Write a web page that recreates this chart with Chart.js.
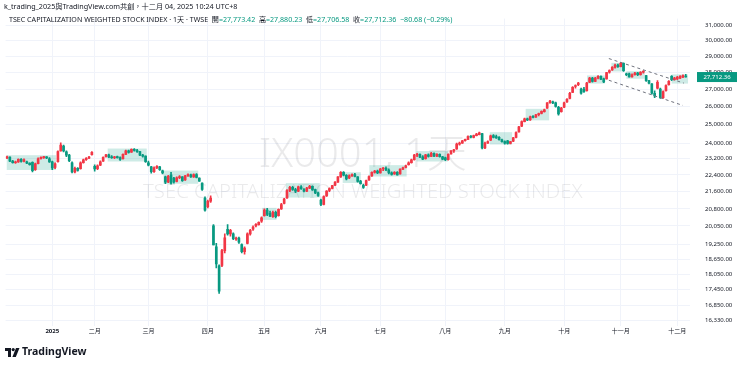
<!DOCTYPE html>
<html>
<head>
<meta charset="utf-8">
<title>TSEC Weighted Index - 1D</title>
<script src="https://cdn.jsdelivr.net/npm/chart.js@4.4.1/dist/chart.umd.min.js"></script>
<style>
    html, body { margin: 0; padding: 0; background: #ffffff; }
    #wrap { width: 740px; height: 367px; position: relative; }
</style>
</head>
<body>
<div id="wrap"><canvas id="chart" width="740" height="367"></canvas></div>
<script>
// Trading days shown on the chart (Dec 10 2024 -> Dec 4 2025)
const dates = [
    '2024-12-10','2024-12-11','2024-12-12','2024-12-13','2024-12-16','2024-12-17','2024-12-18','2024-12-19','2024-12-20',
    '2024-12-23','2024-12-24','2024-12-25','2024-12-26','2024-12-27','2024-12-30','2024-12-31',
    '2025-01-02','2025-01-03','2025-01-06','2025-01-07','2025-01-08','2025-01-09','2025-01-10','2025-01-13','2025-01-14',
    '2025-01-15','2025-01-16','2025-01-17','2025-01-20','2025-01-21','2025-01-22',
    '2025-02-03','2025-02-04','2025-02-05','2025-02-06','2025-02-07','2025-02-10','2025-02-11','2025-02-12','2025-02-13',
    '2025-02-14','2025-02-17','2025-02-18','2025-02-19','2025-02-20','2025-02-21','2025-02-24','2025-02-25','2025-02-26','2025-02-27',
    '2025-03-03','2025-03-04','2025-03-05','2025-03-06','2025-03-07','2025-03-10','2025-03-11','2025-03-12','2025-03-13',
    '2025-03-14','2025-03-17','2025-03-18','2025-03-19','2025-03-20','2025-03-21','2025-03-24','2025-03-25','2025-03-26',
    '2025-03-27','2025-03-28','2025-03-31',
    '2025-04-01','2025-04-02','2025-04-07','2025-04-08','2025-04-09','2025-04-10','2025-04-11','2025-04-14','2025-04-15',
    '2025-04-16','2025-04-17','2025-04-18','2025-04-21','2025-04-22','2025-04-23','2025-04-24','2025-04-25','2025-04-28',
    '2025-04-29','2025-04-30',
    '2025-05-02','2025-05-05','2025-05-06','2025-05-07','2025-05-08','2025-05-09','2025-05-12','2025-05-13','2025-05-14',
    '2025-05-15','2025-05-16','2025-05-19','2025-05-20','2025-05-21','2025-05-22','2025-05-23','2025-05-26','2025-05-27',
    '2025-05-28','2025-05-29',
    '2025-06-02','2025-06-03','2025-06-04','2025-06-05','2025-06-06','2025-06-09','2025-06-10','2025-06-11','2025-06-12',
    '2025-06-13','2025-06-16','2025-06-17','2025-06-18','2025-06-19','2025-06-20','2025-06-23','2025-06-24','2025-06-25',
    '2025-06-26','2025-06-27','2025-06-30',
    '2025-07-01','2025-07-02','2025-07-03','2025-07-04','2025-07-07','2025-07-08','2025-07-09','2025-07-10','2025-07-11',
    '2025-07-14','2025-07-15','2025-07-16','2025-07-17','2025-07-18','2025-07-21','2025-07-22','2025-07-23','2025-07-24',
    '2025-07-25','2025-07-28','2025-07-29','2025-07-30','2025-07-31',
    '2025-08-01','2025-08-04','2025-08-05','2025-08-06','2025-08-07','2025-08-08','2025-08-11','2025-08-12','2025-08-13',
    '2025-08-14','2025-08-15','2025-08-18','2025-08-19','2025-08-20','2025-08-21','2025-08-22','2025-08-25','2025-08-26',
    '2025-08-27','2025-08-28','2025-08-29',
    '2025-09-01','2025-09-02','2025-09-03','2025-09-04','2025-09-05','2025-09-08','2025-09-09','2025-09-10','2025-09-11',
    '2025-09-12','2025-09-15','2025-09-16','2025-09-17','2025-09-18','2025-09-19','2025-09-22','2025-09-23','2025-09-24',
    '2025-09-25','2025-09-26','2025-09-30',
    '2025-10-01','2025-10-02','2025-10-03','2025-10-07','2025-10-08','2025-10-09','2025-10-13','2025-10-14','2025-10-15',
    '2025-10-16','2025-10-17','2025-10-20','2025-10-21','2025-10-22','2025-10-23','2025-10-27','2025-10-28','2025-10-29',
    '2025-10-30','2025-10-31',
    '2025-11-03','2025-11-04','2025-11-05','2025-11-06','2025-11-07','2025-11-10','2025-11-11','2025-11-12','2025-11-13',
    '2025-11-14','2025-11-17','2025-11-18','2025-11-19','2025-11-20','2025-11-21','2025-11-24','2025-11-25','2025-11-26',
    '2025-11-27','2025-11-28',
    '2025-12-01','2025-12-02','2025-12-03','2025-12-04'
];

// OHLC, one value per trading day
const openP = [
    23240,23280,23080,23000,23040,23170,23060,23050,22980,23020,22650,22950,23200,23260,23290,23200,
    23050,22760,23050,23600,23850,23550,23380,23000,22550,22720,22700,23000,23150,23230,23400,
    22820,22700,22880,23080,23300,23400,23300,23250,23290,23260,23200,23420,23600,23540,23680,23620,23560,23380,23330,
    23000,22800,22560,22750,22800,22600,22300,22060,22400,22240,22080,22260,22300,22150,22350,22400,22300,22420,22250,22000,21300,
    20900,21150,20050,19150,18380,18400,19000,19900,19700,19700,19480,19520,19250,18950,19300,19700,19900,20050,20100,20250,
    20500,20750,20600,20450,20650,20500,20800,21050,21300,21650,21800,21700,21620,21820,21700,21620,21760,21850,21700,21540,
    21200,21000,21400,21650,21750,21900,22050,22300,22520,22380,22250,22350,22420,22300,22100,21900,21900,22150,22350,22520,22580,
    22500,22700,22720,22640,22500,22450,22530,22450,22680,22760,22900,23000,23150,23380,23420,23300,23200,23400,23320,23480,23330,23420,23300,
    23250,23150,23450,23600,23700,23950,24000,24130,24200,24350,24300,24400,24450,24500,23750,24000,24150,24400,24350,24300,24180,
    24080,24120,23980,24100,24300,24600,24900,25150,25300,25250,25420,25400,25530,25600,25700,25900,26200,26250,26200,25950,25700,
    25950,26250,26450,26800,27150,27250,27000,27000,26900,27400,27650,27450,27650,27750,27600,27600,28000,28150,28300,28450,
    28350,28550,27900,27900,27720,27850,27950,27850,28000,27800,27500,27300,26750,27050,27000,26500,26900,27250,27750,27550,
    27600,27650,27700,27773.42
];
const highP = [
    23340,23300,23120,23080,23200,23210,23200,23080,23000,23050,22980,23250,23300,23320,23310,23260,
    23080,23000,23600,24020,23900,23600,23420,23050,22780,22760,23050,23180,23260,23320,23560,
    22900,22900,23100,23300,23420,23440,23360,23320,23340,23300,23450,23640,23640,23700,23720,23680,23580,23420,23350,
    23080,22820,22800,22860,22820,22640,22340,22380,22520,22280,22300,22360,22320,22380,22450,22440,22450,22460,22260,22020,21350,
    21200,21400,20100,19300,18420,19050,19700,20100,19900,19750,19560,19560,19280,19150,19750,19900,20050,20150,20220,20450,
    20800,20830,20700,20700,20700,20800,21050,21280,21700,21850,21850,21750,21860,21880,21740,21800,21900,21870,21720,21580,
    21250,21400,21650,21780,21900,22080,22320,22560,22560,22420,22400,22450,22480,22320,22140,21950,22150,22350,22550,22620,22640,
    22720,22760,22800,22700,22550,22560,22560,22700,22780,22880,23050,23180,23420,23480,23450,23360,23420,23450,23520,23500,23460,23450,23320,
    23280,23450,23620,23680,24000,24050,24150,24220,24380,24400,24420,24520,24580,24520,24050,24120,24420,24450,24420,24350,24220,
    24120,24150,24100,24300,24600,24900,25200,25350,25350,25450,25480,25560,25620,25750,25850,26220,26350,26300,26250,26000,25950,
    26250,26450,26800,27150,27250,27400,27050,27100,27400,27700,27700,27700,27800,27780,27650,28000,28150,28350,28500,28500,
    28620,28580,27950,27950,27900,28000,28000,28050,28100,27820,27520,27320,26900,27500,27050,26900,27250,27500,27800,27700,
    27750,27800,27850,27880.23
];
const lowP = [
    23200,23050,22980,22960,23020,23030,23040,22950,22880,22550,22620,22940,23180,23220,23200,23020,
    22650,22700,23030,23580,23550,23300,23050,22500,22500,22580,22680,22980,23120,23200,23380,
    22580,22650,22850,23060,23280,23250,23220,23200,23230,23120,23180,23400,23480,23520,23580,23520,23350,23280,23020,
    22840,22480,22520,22700,22620,22450,21980,22020,21950,22000,22060,22220,22080,22130,22320,22280,22280,22250,22080,21650,20700,
    20850,21100,19230,18300,17306,18350,18900,19650,19600,19450,19420,19300,18900,18850,19280,19650,19850,20000,20080,20200,
    20480,20500,20450,20420,20400,20480,20780,21030,21280,21600,21650,21550,21600,21700,21580,21600,21740,21650,21500,21380,
    20950,20980,21380,21600,21720,21880,22030,22280,22350,22150,22220,22320,22300,22050,21950,21750,21880,22130,22330,22480,22460,
    22480,22600,22600,22450,22380,22420,22380,22430,22650,22740,22880,22980,23130,23300,23250,23150,23180,23280,23300,23300,23300,23280,23150,
    23100,23130,23430,23520,23680,23900,23980,24100,24180,24280,24280,24380,24430,23700,23720,23980,24130,24280,24250,24150,24050,
    23950,23950,23960,24080,24280,24580,24880,25130,25200,25220,25350,25380,25460,25580,25680,25880,26180,26150,25950,25500,25680,
    25930,26230,26430,26780,27050,27200,26700,26800,26880,27380,27400,27430,27600,27550,27380,27580,27950,28120,28250,28300,
    28330,28050,27800,27700,27700,27830,27800,27830,27950,27450,27300,26700,26500,27000,26450,26450,26880,27230,27500,27520,
    27550,27620,27680,27706.58
];
const closeP = [
    23300,23080,23000,23030,23170,23060,23150,22980,22900,22600,22950,23200,23270,23290,23240,23040,
    22740,22950,23560,23900,23600,23380,23100,22550,22720,22620,23000,23150,23220,23290,23530,
    22690,22850,23050,23270,23400,23280,23250,23290,23260,23160,23420,23600,23520,23680,23620,23560,23380,23330,23050,
    22880,22560,22750,22820,22660,22500,22050,22330,22000,22060,22260,22320,22120,22350,22420,22300,22420,22280,22100,21700,20750,
    21150,21300,19232,18459,17391,19000,19528,19700,19850,19500,19520,19350,18950,19100,19700,19850,20000,20120,20200,20400,
    20750,20550,20480,20650,20450,20780,21000,21250,21650,21800,21700,21620,21820,21740,21620,21760,21850,21680,21540,21420,
    21000,21370,21620,21740,21880,22050,22300,22520,22380,22200,22350,22420,22330,22080,21980,21800,22120,22320,22520,22580,22500,
    22680,22720,22640,22500,22420,22530,22400,22680,22750,22850,23000,23150,23380,23420,23280,23180,23400,23320,23480,23330,23420,23300,23180,
    23150,23420,23600,23650,23950,24000,24120,24200,24350,24320,24400,24480,24550,23750,24000,24080,24380,24300,24280,24180,24080,
    24000,23980,24080,24280,24560,24870,25150,25300,25250,25420,25380,25530,25600,25720,25800,26200,26300,26200,26000,25580,25900,
    26200,26400,26750,27100,27200,27350,26750,26850,27350,27650,27450,27650,27750,27580,27420,27980,28100,28300,28450,28350,
    28550,28100,27850,27720,27850,27950,27850,28000,28050,27500,27350,26750,26600,27400,26500,26850,27200,27450,27550,27650,
    27700,27750,27793.04,27712.36
];

// Price scale ticks (TradingView log scale labels)
const priceTicks = [16330, 16850, 17450, 18050, 18650, 19250, 20050, 20800, 21600, 22400, 23200,
    24000, 25000, 26000, 27000, 28000, 29000, 30000, 31000];

// Time axis labels by month number (January shows the year)
const monthNames = ['2025', '二月', '三月', '四月', '五月', '六月', '七月', '八月', '九月', '十月', '十一月', '十二月'];

// Shaded rectangles drawn on the chart: [from bar, to bar, low price, high price]
const zones = [
    [-0.1, 17.3, 22640, 23380],
    [35.6, 49.4, 23060, 23720],
    [55.3, 67.6, 21970, 22610],
    [90.2, 95.3, 20310, 20850],
    [98.6, 110.6, 21320, 22000],
    [118.7, 125.1, 22010, 22530],
    [128.1, 141.3, 22320, 22880],
    [144.8, 155.9, 23060, 23590],
    [170.7, 178.6, 23930, 24580],
    [183.4, 191.7, 25220, 25860],
    [205.1, 211.4, 27320, 27810],
    [213.7, 218.5, 28050, 28580],
    [219.0, 225.5, 27610, 28070],
    [235.0, 240.8, 27320, 27870]
];

// Falling channel (dashed trend lines): [bar, price, bar, price]
const channelLines = [
    [212.8, 28850, 239.3, 27350],
    [212.8, 27520, 239.0, 26050]
];

const lastClose = closeP[closeP.length - 1];

const UP = '#F23645';
const DOWN = '#089981';
const TEXT = '#131722';
const FONT = '"Noto Sans", "Noto Sans CJK TC", sans-serif';

/**
 * Month start ticks for the time axis
 */
function getMonthTicks() {
    const ticks = [];
    for (let i = 1; i < dates.length; i++) {
        const m = dates[i].slice(0, 7);
        if (m !== dates[i - 1].slice(0, 7)) {
            ticks.push({ value: i, label: monthNames[parseInt(dates[i].slice(5, 7), 10) - 1] });
        }
    }
    return ticks;
}

const monthTicks = getMonthTicks();

/**
 * Decorations: watermark, rectangles, channel, legend, price label, logo
 */
const decorPlugin = {
    id: 'decor',
    beforeDatasetsDraw(chart) {
        const { ctx, chartArea, scales: { x, y } } = chart;
        ctx.save();

        // watermark
        const cx = (chartArea.left + chartArea.right) / 2 + 15;
        ctx.fillStyle = 'rgba(19, 23, 34, 0.09)';
        ctx.textAlign = 'center';
        ctx.textBaseline = 'alphabetic';
        ctx.font = '300 40px ' + FONT;
        ctx.fillText('IX0001, 1天', cx, 167);
        ctx.font = '300 20.3px ' + FONT;
        ctx.fillText('TSEC CAPITALIZATION WEIGHTED STOCK INDEX', cx, 198);

        // shaded rectangles
        ctx.fillStyle = 'rgba(8, 153, 129, 0.2)';
        zones.forEach(([i0, i1, lo, hi]) => {
            const xa = x.getPixelForValue(i0);
            const xb = x.getPixelForValue(i1);
            const ya = y.getPixelForValue(hi);
            const yb = y.getPixelForValue(lo);
            ctx.fillRect(xa, ya, xb - xa, yb - ya);
        });
        ctx.restore();
    },
    afterDatasetsDraw(chart) {
        const { ctx, scales: { x, y } } = chart;
        ctx.save();
        ctx.strokeStyle = '#6f727d';
        ctx.lineWidth = 1;
        ctx.setLineDash([3, 3]);
        channelLines.forEach(([i0, p0, i1, p1]) => {
            ctx.beginPath();
            ctx.moveTo(x.getPixelForValue(i0), y.getPixelForValue(p0));
            ctx.lineTo(x.getPixelForValue(i1), y.getPixelForValue(p1));
            ctx.stroke();
        });
        ctx.restore();
    },
    afterDraw(chart) {
        const { ctx, chartArea, scales: { y } } = chart;
        ctx.save();
        ctx.textAlign = 'left';
        ctx.textBaseline = 'middle';

        // snapshot title
        ctx.fillStyle = TEXT;
        ctx.font = '7.2px ' + FONT;
        ctx.fillText('k_trading_2025與TradingView.com共創，十二月 04, 2025 10:24 UTC+8', 4, 7);

        // legend line
        const fmt = (v) => v.toLocaleString('en-US', { minimumFractionDigits: 2, maximumFractionDigits: 2 });
        const change = lastClose - closeP[closeP.length - 2];
        const pct = change / closeP[closeP.length - 2] * 100;
        const parts = [
            ['TSEC CAPITALIZATION WEIGHTED STOCK INDEX · 1天 · TWSE  ', TEXT],
            ['開', TEXT], ['=' + fmt(openP[openP.length - 1]) + '  ', DOWN],
            ['高', TEXT], ['=' + fmt(highP[highP.length - 1]) + '  ', DOWN],
            ['低', TEXT], ['=' + fmt(lowP[lowP.length - 1]) + '  ', DOWN],
            ['收', TEXT], ['=' + fmt(lastClose) + '  ', DOWN],
            ['−' + fmt(Math.abs(change)) + ' (−' + Math.abs(pct).toFixed(2) + '%)', DOWN]
        ];
        ctx.font = '7.1px ' + FONT;
        let lx = 9;
        parts.forEach(([text, color]) => {
            ctx.fillStyle = color;
            ctx.fillText(text, lx, 20);
            lx += ctx.measureText(text).width;
        });

        // last price label on the price scale
        const py = y.getPixelForValue(lastClose);
        ctx.fillStyle = DOWN;
        ctx.fillRect(chartArea.right + 7, py - 5, 40, 10);
        ctx.fillStyle = '#ffffff';
        ctx.textAlign = 'center';
        ctx.font = '6px ' + FONT;
        ctx.fillText(fmt(lastClose), chartArea.right + 27, py + 0.5);

        // TradingView logo
        ctx.fillStyle = TEXT;
        ctx.fillRect(5, 348, 6, 3);
        ctx.fillRect(8, 348, 3, 9);
        ctx.beginPath();
        ctx.arc(13.2, 349.6, 1.6, 0, Math.PI * 2);
        ctx.fill();
        ctx.beginPath();
        ctx.moveTo(16, 348);
        ctx.lineTo(19.5, 348);
        ctx.lineTo(15.8, 357);
        ctx.lineTo(12.4, 357);
        ctx.closePath();
        ctx.fill();
        ctx.textAlign = 'left';
        ctx.font = 'bold 10.5px ' + FONT;
        ctx.fillText('TradingView', 22, 352.5);
        ctx.restore();
    }
};

/**
 * Build the candlestick chart from floating bars
 */
function createCandleChart() {
    const ctx = document.getElementById('chart');
    const colors = closeP.map((c, i) => (c >= openP[i] ? UP : DOWN));
    const bodies = openP.map((o, i) => [Math.min(o, closeP[i]), Math.max(o, closeP[i])]);
    const wicks = lowP.map((l, i) => [l, highP[i]]);
    const labels = dates.concat(['']);  // one empty slot on the right edge

    return new Chart(ctx, {
        type: 'bar',
        data: {
            labels: labels,
            datasets: [
                {
                    label: 'body',
                    data: bodies,
                    backgroundColor: colors,
                    borderWidth: 0,
                    barThickness: 2,
                    minBarLength: 1,
                    grouped: false,
                    order: 0
                },
                {
                    label: 'wick',
                    data: wicks,
                    backgroundColor: colors,
                    borderWidth: 0,
                    barThickness: 1,
                    grouped: false,
                    order: 1
                }
            ]
        },
        options: {
            responsive: false,
            devicePixelRatio: 1,
            animation: false,
            events: [],
            layout: { padding: { left: 5.6, right: 0, top: 14, bottom: 27 } },
            plugins: {
                legend: { display: false },
                tooltip: { enabled: false }
            },
            scales: {
                x: {
                    type: 'category',
                    offset: true,
                    border: { display: false },
                    grid: { color: '#f0f3fa', drawTicks: false, offset: false },
                    afterBuildTicks: (scale) => {
                        scale.ticks = monthTicks.map(t => ({ value: t.value }));
                    },
                    afterFit: (scale) => { scale.height = 14; },
                    ticks: {
                        autoSkip: false,
                        maxRotation: 0,
                        padding: 2,
                        color: TEXT,
                        font: (c) => ({
                            family: FONT,
                            size: 6,
                            weight: c.tick && c.tick.label === '2025' ? 'bold' : 'normal'
                        }),
                        callback: (value) => {
                            const t = monthTicks.find(m => m.value === value);
                            return t ? t.label : '';
                        }
                    }
                },
                y: {
                    type: 'logarithmic',
                    position: 'right',
                    min: 16124,
                    max: 31469,
                    border: { display: false },
                    grid: { color: '#f0f3fa', drawTicks: false },
                    afterBuildTicks: (scale) => {
                        scale.ticks = priceTicks.map(v => ({ value: v }));
                    },
                    afterFit: (scale) => { scale.width = 50; },
                    ticks: {
                        padding: 15,
                        color: TEXT,
                        font: { family: FONT, size: 6 },
                        callback: (v) => v.toLocaleString('en-US', { minimumFractionDigits: 2, maximumFractionDigits: 2 })
                    }
                }
            }
        },
        plugins: [decorPlugin]
    });
}

document.addEventListener('DOMContentLoaded', () => {
    createCandleChart();
});
</script>
</body>
</html>
